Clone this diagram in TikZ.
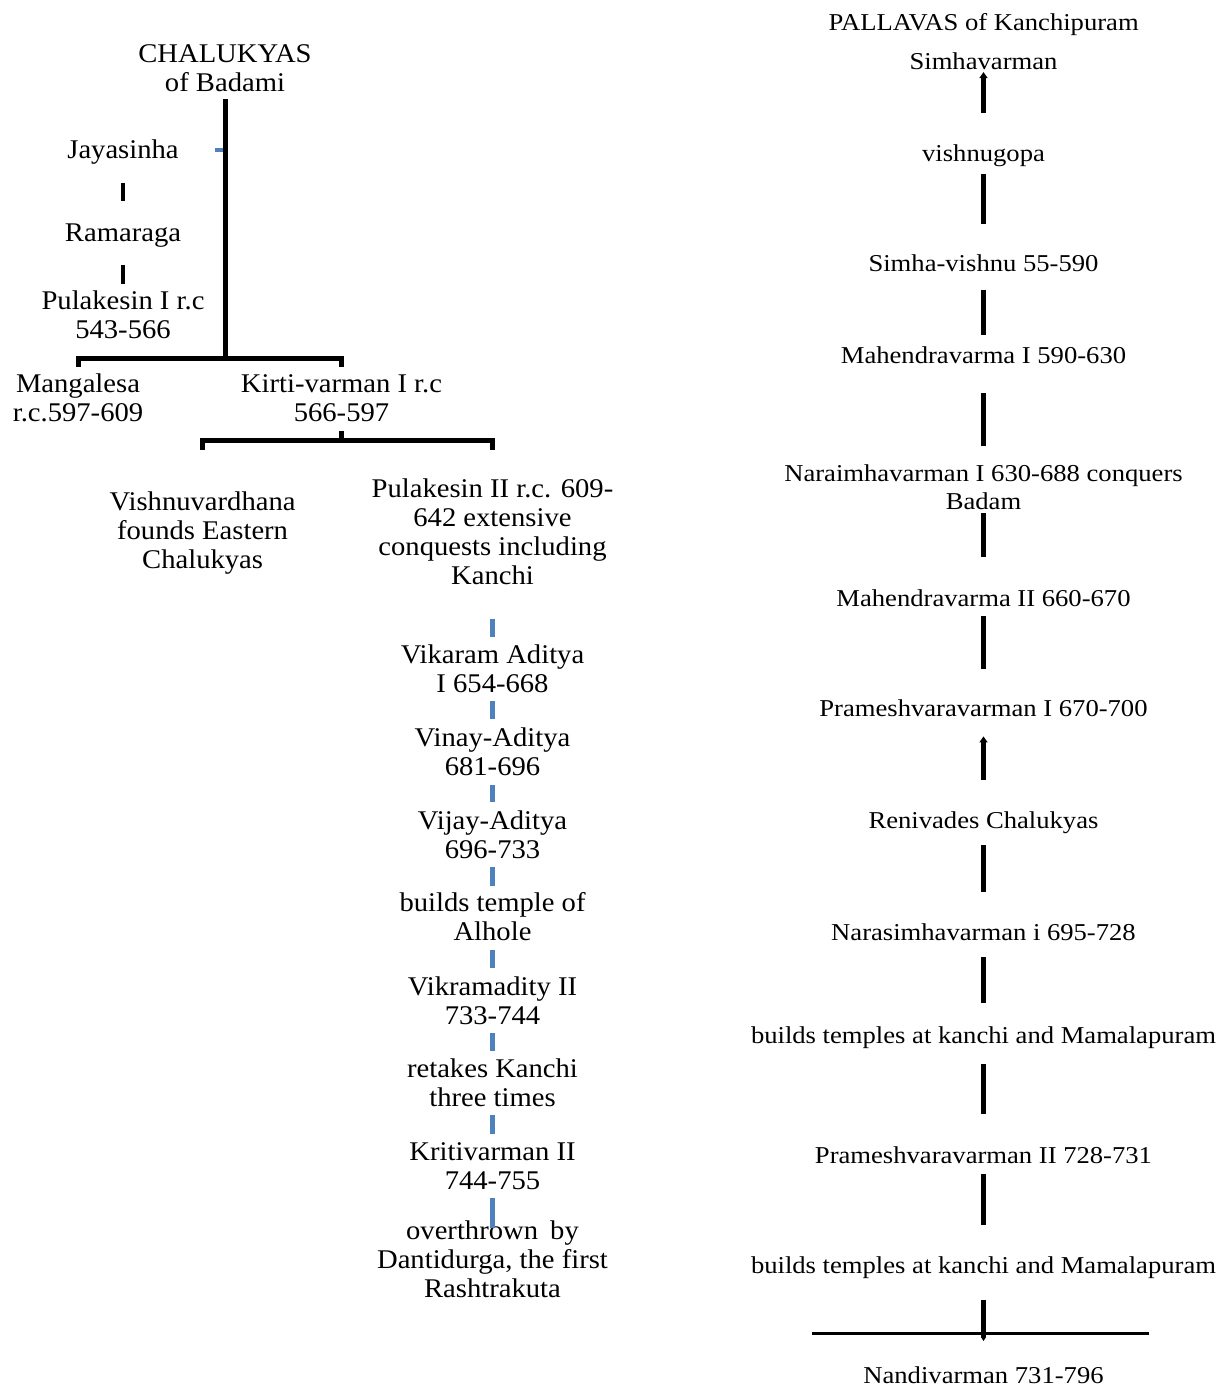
\documentclass[tikz,border=0pt]{standalone}
\usepackage{fontspec}
\usetikzlibrary{arrows.meta}
\newfontfamily\lfont{Liberation Serif}[FakeStretch=1.06]
\newfontfamily\rfont{Liberation Serif}[FakeStretch=1.1]
\definecolor{dashblue}{RGB}{79,129,189}
\tikzset{
  ltxt/.style={font=\lfont\fontsize{27}{29}\selectfont, align=center, inner sep=0pt, anchor=north},
  rtxt/.style={font=\rfont\fontsize{24.2}{28}\selectfont, align=center, inner sep=0pt, anchor=north},
  conn/.style={line width=5pt, draw=black},
  bconn/.style={line width=5pt, draw=dashblue},
  uparrow/.style={-{Triangle[length=6pt,width=8pt]}},
  smallarrow/.style={-{Triangle[length=4pt,width=5pt]}},
  baseline rule/.style={line width=3pt, draw=black}
}
\begin{document}
\begin{tikzpicture}[x=1pt,y=-1pt]
\useasboundingbox (0,0) rectangle (1224,1387);

% ---------------- Chalukyas ----------------
\node[ltxt] (chal) at (225,42.4) {CHALUKYAS\strut\\of Badami\strut};
\node[ltxt] (jaya) at (123,138.4) {Jayasinha\strut};
\node[ltxt] (rama) at (123,221.4) {Ramaraga\strut};
\node[ltxt] (pul1) at (123,289) {Pulakesin I r.c\strut\\543-566\strut};
\node[ltxt] (mang) at (78,372.4) {Mangalesa\strut\\r.c.597-609\strut};
\node[ltxt] (kirti) at (341.5,372.4) {Kirti-varman I r.c\strut\\566-597\strut};
\node[ltxt] (vish) at (202.6,489.7) {Vishnuvardhana\strut\\founds Eastern\strut\\Chalukyas\strut};
\node[ltxt] (pul2) at (492.5,477) {Pulakesin II r.c. 609-\strut\\642 extensive\strut\\conquests including\strut\\Kanchi\strut};
\node[ltxt] (vik1) at (492.5,643) {Vikaram Aditya\strut\\I 654-668\strut};
\node[ltxt] (vinay) at (492.5,726.4) {Vinay-Aditya\strut\\681-696\strut};
\node[ltxt] (vijay) at (492.5,809) {Vijay-Aditya\strut\\696-733\strut};
\node[ltxt] (alhole) at (492.5,891.4) {builds temple of\strut\\Alhole\strut};
\node[ltxt] (vik2) at (492.5,974.7) {Vikramadity II\strut\\733-744\strut};
\node[ltxt] (retake) at (492.5,1057) {retakes Kanchi\strut\\three times\strut};
\node[ltxt] (kriti) at (492.5,1139.7) {Kritivarman II\strut\\744-755\strut};
\node[ltxt] (over) at (492.5,1219) {overthrown\hspace{5pt} by\strut\\Dantidurga, the first\strut\\Rashtrakuta\strut};

\coordinate (bt) at (225,150);
\draw[bconn, line width=4.5pt] (bt) -- ++(-10,0);
\coordinate (j1) at (225,358);
\draw[conn] ([yshift=1.4pt]chal.south) -- (j1);
\draw[conn] ([yshift=5.4pt]mang.north) -- (mang.north |- j1) -- (kirti.north |- j1) -- ([yshift=5.4pt]kirti.north);
\draw[conn, line width=4.5pt] ([yshift=-15.3pt]jaya.south) -- ([yshift=20.7pt]rama.north);
\draw[conn, line width=4.5pt] ([yshift=-14.6pt]rama.south) -- ([yshift=5pt]pul1.north);

\coordinate (j2) at (341.5,440);
\draw[conn] (kirti.south) -- (j2);
\draw[conn] ([yshift=39.7pt]vish.north) -- (vish.north |- j2) -- (pul2.north |- j2) -- ([yshift=27pt]pul2.north);

\draw[bconn] ([yshift=-25.3pt]pul2.south) -- ([yshift=6.3pt]vik1.north);
\draw[bconn] (vik1.south) -- ([yshift=7.1pt]vinay.north);
\draw[bconn] (vinay.south) -- ([yshift=6.7pt]vijay.north);
\draw[bconn] (vijay.south) -- ([yshift=5.7pt]alhole.north);
\draw[bconn] (alhole.south) -- ([yshift=6.4pt]vik2.north);
\draw[bconn] (vik2.south) -- ([yshift=6.3pt]retake.north);
\draw[bconn] (retake.south) -- ([yshift=5.7pt]kriti.north);
\draw[bconn] (kriti.south) -- ([yshift=-9.3pt]over.north);

% ---------------- Pallavas ----------------
\node[rtxt] (title) at (983.7,11.1) {PALLAVAS of Kanchipuram\strut};
\node[rtxt] (simha) at (983.5,49.4) {Simhavarman\strut};
\node[rtxt] (vgopa) at (983.5,142.1) {vishnugopa\strut};
\node[rtxt] (sv) at (983.5,252.1) {Simha-vishnu 55-590\strut};
\node[rtxt] (mah1) at (983.5,343.7) {Mahendravarma I 590-630\strut};
\node[rtxt] (nara) at (983.5,461.4) {Naraimhavarman I 630-688 conquers\strut\\Badam\strut};
\node[rtxt] (mah2) at (983.5,586.4) {Mahendravarma II 660-670\strut};
\node[rtxt] (pram1) at (983.5,697.1) {Prameshvaravarman I 670-700\strut};
\node[rtxt] (reniv) at (983.5,808.7) {Renivades Chalukyas\strut};
\node[rtxt] (nara2) at (983.5,920.4) {Narasimhavarman i 695-728\strut};
\node[rtxt] (bt1) at (983.5,1023.7) {builds temples at kanchi and Mamalapuram\strut};
\node[rtxt] (pram2) at (983.5,1143.7) {Prameshvaravarman II 728-731\strut};
\node[rtxt] (bt2) at (983.5,1253.7) {builds temples at kanchi and Mamalapuram\strut};
\node[rtxt] (nandi) at (983.5,1363.7) {Nandivarman 731-796\strut};

\draw[conn, uparrow] ([yshift=29.4pt]vgopa.north) -- ([yshift=5.7pt]simha.south);
\draw[conn] ([yshift=-3.2pt]vgopa.south) -- ([yshift=28.1pt]sv.north);
\draw[conn] ([yshift=-9.2pt]sv.south) -- ([yshift=8.7pt]mah1.north);
\draw[conn] ([yshift=-21pt]mah1.south) -- ([yshift=15.4pt]nara.north);
\draw[conn] ([yshift=4.7pt]nara.south) -- ([yshift=29.1pt]mah2.north);
\draw[conn] ([yshift=-1.6pt]mah2.south) -- ([yshift=27.8pt]pram1.north);
\draw[conn, uparrow] ([yshift=28.7pt]reniv.north) -- ([yshift=-10.9pt]pram1.south);
\draw[conn] ([yshift=-8.3pt]reniv.south) -- ([yshift=28.7pt]nara2.north);
\draw[conn] ([yshift=-8.3pt]nara2.south) -- ([yshift=20.4pt]bt1.north);
\draw[conn] ([yshift=-12.3pt]bt1.south) -- ([yshift=29.7pt]pram2.north);
\draw[conn] ([yshift=-1.6pt]pram2.south) -- ([yshift=28.7pt]bt2.north);
\draw[baseline rule] ([xshift=-171.8pt,yshift=30.4pt]nandi.north) -- ([xshift=165.8pt,yshift=30.4pt]nandi.north);
\draw[conn, smallarrow] ([yshift=-17.6pt]bt2.south) -- ([yshift=22.7pt]nandi.north);
\end{tikzpicture}
\end{document}
